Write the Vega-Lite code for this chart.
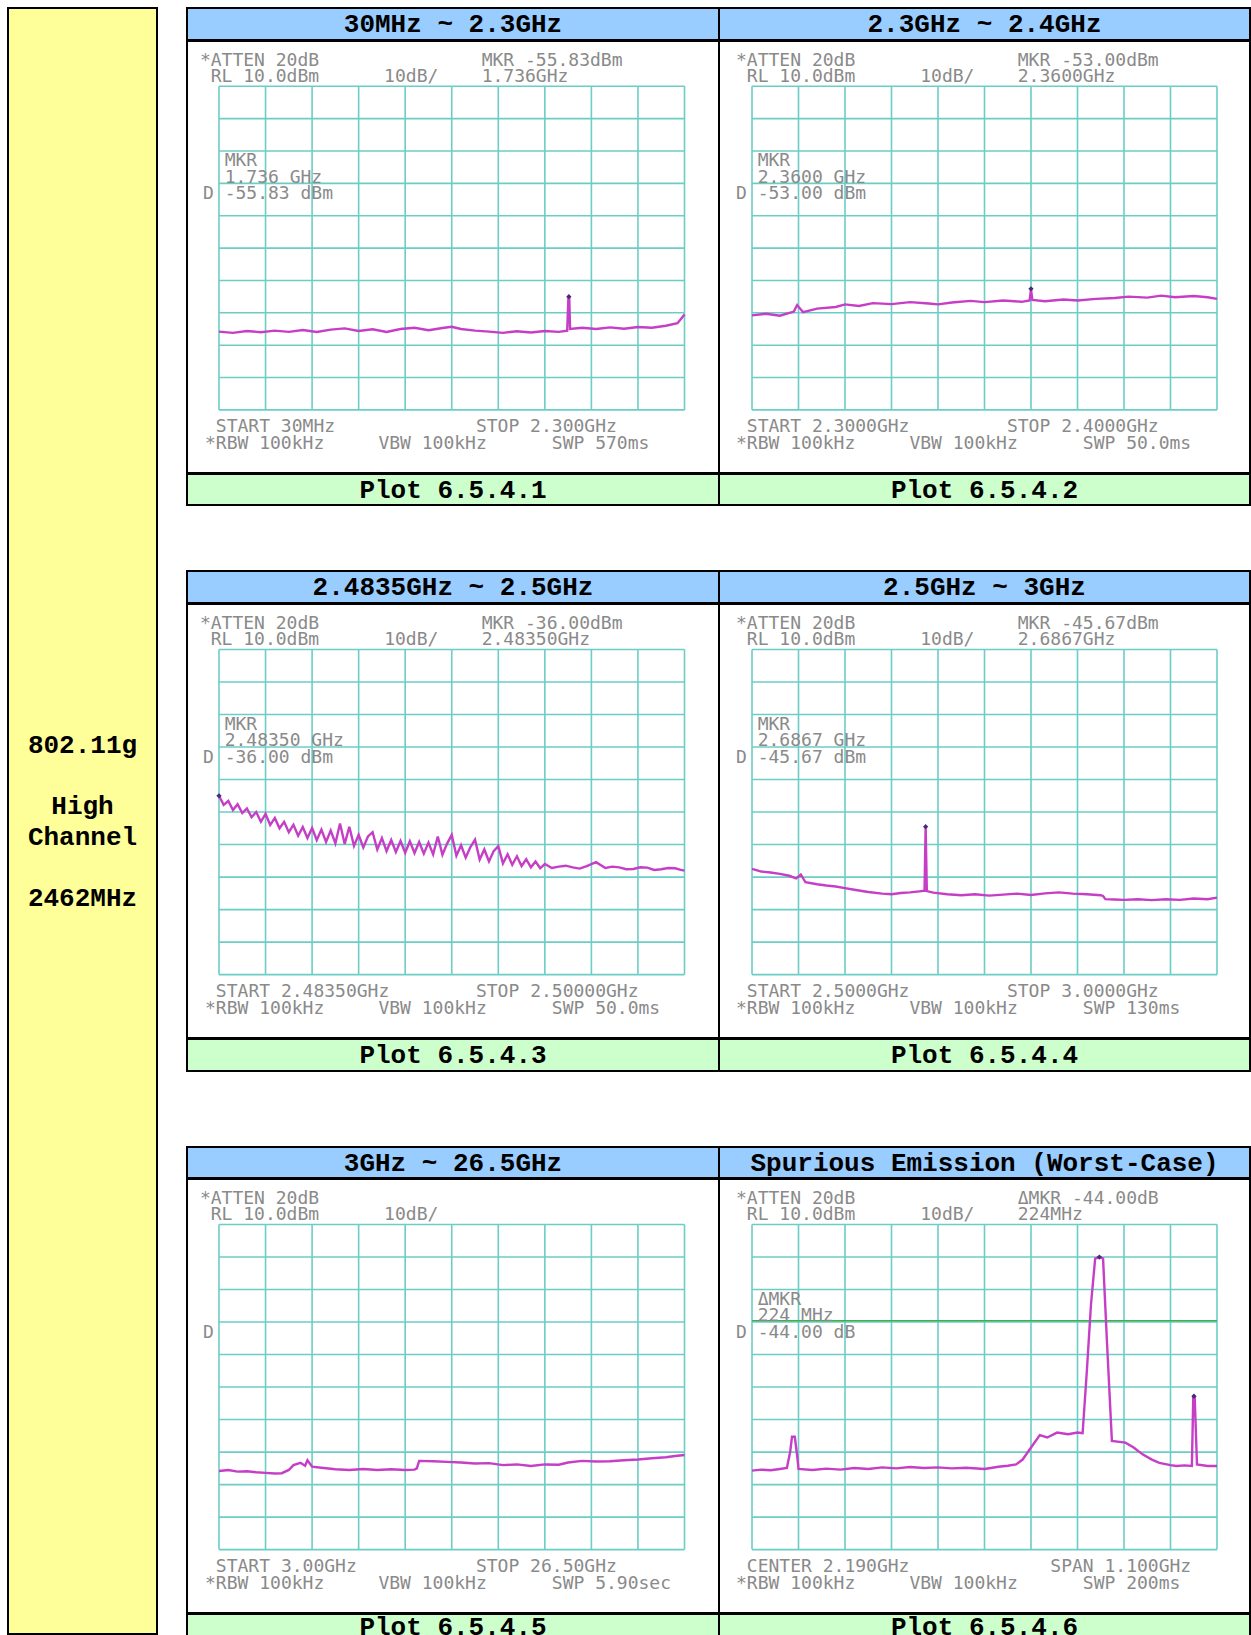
{
"$schema": "https://vega.github.io/schema/vega-lite/v6.json",
"background": "white",
"padding": {"left": 7, "top": 7, "right": 0, "bottom": 0},
"config": {
  "view": {"stroke": null},
  "text": {"font": "DejaVu Sans Mono", "fontSize": 18, "color": "#8a8a8a", "align": "left", "baseline": "alphabetic", "lineBreak": "\n"},
  "rule": {"color": "#6ccdc6", "strokeWidth": 1.6},
  "line": {"color": "#c63ec6", "strokeWidth": 2.4},
  "point": {"shape": "diamond", "filled": true, "color": "#4b2a7a", "size": 28, "opacity": 1}
},
"datasets": {
  "levels": [{"dbm":10},{"dbm":0},{"dbm":-10},{"dbm":-20},{"dbm":-30},{"dbm":-40},{"dbm":-50},{"dbm":-60},{"dbm":-70},{"dbm":-80},{"dbm":-90}],
  "g1": [{"ghz":0.03},{"ghz":0.257},{"ghz":0.484},{"ghz":0.711},{"ghz":0.938},{"ghz":1.165},{"ghz":1.392},{"ghz":1.619},{"ghz":1.846},{"ghz":2.073},{"ghz":2.3}],
  "g2": [{"ghz":2.30},{"ghz":2.31},{"ghz":2.32},{"ghz":2.33},{"ghz":2.34},{"ghz":2.35},{"ghz":2.36},{"ghz":2.37},{"ghz":2.38},{"ghz":2.39},{"ghz":2.40}],
  "g3": [{"ghz":2.4835},{"ghz":2.48515},{"ghz":2.4868},{"ghz":2.48845},{"ghz":2.4901},{"ghz":2.49175},{"ghz":2.4934},{"ghz":2.49505},{"ghz":2.4967},{"ghz":2.49835},{"ghz":2.5}],
  "g4": [{"ghz":2.50},{"ghz":2.55},{"ghz":2.60},{"ghz":2.65},{"ghz":2.70},{"ghz":2.75},{"ghz":2.80},{"ghz":2.85},{"ghz":2.90},{"ghz":2.95},{"ghz":3.00}],
  "g5": [{"ghz":3.0},{"ghz":5.35},{"ghz":7.7},{"ghz":10.05},{"ghz":12.4},{"ghz":14.75},{"ghz":17.1},{"ghz":19.45},{"ghz":21.8},{"ghz":24.15},{"ghz":26.5}],
  "g6": [{"ghz":1.64},{"ghz":1.75},{"ghz":1.86},{"ghz":1.97},{"ghz":2.08},{"ghz":2.19},{"ghz":2.30},{"ghz":2.41},{"ghz":2.52},{"ghz":2.63},{"ghz":2.74}],
  "p1": [{"ghz":0.030,"dbm":-65.8},{"ghz":0.098,"dbm":-66.2},{"ghz":0.166,"dbm":-65.6},{"ghz":0.234,"dbm":-66.0},{"ghz":0.302,"dbm":-65.5},{"ghz":0.371,"dbm":-65.9},{"ghz":0.439,"dbm":-65.3},{"ghz":0.507,"dbm":-65.9},{"ghz":0.575,"dbm":-65.2},{"ghz":0.643,"dbm":-64.8},{"ghz":0.711,"dbm":-65.6},{"ghz":0.779,"dbm":-65.1},{"ghz":0.847,"dbm":-65.9},{"ghz":0.915,"dbm":-65.0},{"ghz":0.983,"dbm":-64.6},{"ghz":1.052,"dbm":-65.4},{"ghz":1.120,"dbm":-64.7},{"ghz":1.165,"dbm":-64.3},{"ghz":1.210,"dbm":-65.0},{"ghz":1.279,"dbm":-65.5},{"ghz":1.347,"dbm":-65.8},{"ghz":1.415,"dbm":-66.2},{"ghz":1.483,"dbm":-65.7},{"ghz":1.551,"dbm":-66.1},{"ghz":1.619,"dbm":-65.6},{"ghz":1.687,"dbm":-65.9},{"ghz":1.728,"dbm":-65.5},{"ghz":1.734,"dbm":-55.2},{"ghz":1.738,"dbm":-55.2},{"ghz":1.742,"dbm":-65.0},{"ghz":1.801,"dbm":-64.6},{"ghz":1.869,"dbm":-65.0},{"ghz":1.937,"dbm":-64.5},{"ghz":2.005,"dbm":-64.9},{"ghz":2.073,"dbm":-64.4},{"ghz":2.141,"dbm":-64.6},{"ghz":2.209,"dbm":-64.0},{"ghz":2.266,"dbm":-63.2},{"ghz":2.300,"dbm":-60.5}],
  "p2": [{"ghz":2.300,"dbm":-60.8},{"ghz":2.303,"dbm":-60.3},{"ghz":2.306,"dbm":-60.9},{"ghz":2.309,"dbm":-59.6},{"ghz":2.3097,"dbm":-57.6},{"ghz":2.311,"dbm":-59.8},{"ghz":2.314,"dbm":-58.7},{"ghz":2.318,"dbm":-58.2},{"ghz":2.320,"dbm":-57.4},{"ghz":2.323,"dbm":-57.9},{"ghz":2.326,"dbm":-57.0},{"ghz":2.330,"dbm":-57.3},{"ghz":2.334,"dbm":-56.7},{"ghz":2.338,"dbm":-57.1},{"ghz":2.340,"dbm":-57.4},{"ghz":2.343,"dbm":-56.8},{"ghz":2.347,"dbm":-56.3},{"ghz":2.350,"dbm":-56.7},{"ghz":2.354,"dbm":-56.2},{"ghz":2.358,"dbm":-56.6},{"ghz":2.3597,"dbm":-56.2},{"ghz":2.3600,"dbm":-52.8},{"ghz":2.3603,"dbm":-56.0},{"ghz":2.363,"dbm":-56.4},{"ghz":2.367,"dbm":-55.9},{"ghz":2.370,"dbm":-56.2},{"ghz":2.374,"dbm":-55.7},{"ghz":2.378,"dbm":-55.4},{"ghz":2.381,"dbm":-55.0},{"ghz":2.385,"dbm":-55.3},{"ghz":2.388,"dbm":-54.7},{"ghz":2.391,"dbm":-55.2},{"ghz":2.395,"dbm":-54.8},{"ghz":2.398,"dbm":-55.2},{"ghz":2.400,"dbm":-55.7}],
  "p3": [{"ghz":2.4835,"dbm":-35.0},{"ghz":2.483665,"dbm":-37.8},{"ghz":2.48383,"dbm":-36.6},{"ghz":2.483995,"dbm":-39.4},{"ghz":2.48416,"dbm":-37.6},{"ghz":2.484325,"dbm":-40.3},{"ghz":2.48449,"dbm":-38.9},{"ghz":2.484655,"dbm":-41.6},{"ghz":2.48482,"dbm":-40.0},{"ghz":2.484985,"dbm":-43.0},{"ghz":2.48515,"dbm":-40.6},{"ghz":2.485315,"dbm":-44.0},{"ghz":2.48548,"dbm":-41.8},{"ghz":2.485645,"dbm":-45.0},{"ghz":2.48581,"dbm":-43.0},{"ghz":2.485975,"dbm":-46.2},{"ghz":2.48614,"dbm":-43.9},{"ghz":2.486305,"dbm":-47.3},{"ghz":2.48647,"dbm":-44.6},{"ghz":2.486635,"dbm":-48.0},{"ghz":2.4868,"dbm":-44.9},{"ghz":2.486965,"dbm":-48.6},{"ghz":2.48713,"dbm":-45.4},{"ghz":2.487295,"dbm":-49.2},{"ghz":2.48746,"dbm":-45.7},{"ghz":2.487625,"dbm":-49.6},{"ghz":2.48779,"dbm":-43.5},{"ghz":2.487955,"dbm":-49.8},{"ghz":2.48812,"dbm":-44.5},{"ghz":2.488285,"dbm":-50.4},{"ghz":2.48845,"dbm":-47.0},{"ghz":2.488615,"dbm":-50.9},{"ghz":2.48878,"dbm":-47.5},{"ghz":2.488945,"dbm":-46.2},{"ghz":2.48911,"dbm":-51.5},{"ghz":2.489275,"dbm":-48.0},{"ghz":2.48944,"dbm":-52.0},{"ghz":2.489605,"dbm":-48.6},{"ghz":2.48977,"dbm":-52.3},{"ghz":2.489935,"dbm":-48.9},{"ghz":2.4901,"dbm":-52.5},{"ghz":2.490265,"dbm":-49.0},{"ghz":2.49043,"dbm":-52.6},{"ghz":2.490595,"dbm":-49.2},{"ghz":2.49076,"dbm":-52.8},{"ghz":2.490925,"dbm":-49.4},{"ghz":2.49109,"dbm":-53.0},{"ghz":2.491255,"dbm":-47.5},{"ghz":2.49142,"dbm":-53.1},{"ghz":2.491585,"dbm":-49.7},{"ghz":2.49175,"dbm":-47.0},{"ghz":2.491915,"dbm":-53.4},{"ghz":2.49208,"dbm":-50.2},{"ghz":2.492245,"dbm":-54.0},{"ghz":2.49241,"dbm":-50.8},{"ghz":2.492575,"dbm":-48.5},{"ghz":2.49274,"dbm":-54.6},{"ghz":2.492905,"dbm":-51.5},{"ghz":2.49307,"dbm":-55.2},{"ghz":2.493235,"dbm":-52.0},{"ghz":2.4934,"dbm":-50.5},{"ghz":2.493565,"dbm":-55.8},{"ghz":2.49373,"dbm":-53.0},{"ghz":2.493895,"dbm":-56.2},{"ghz":2.49406,"dbm":-53.6},{"ghz":2.494225,"dbm":-56.6},{"ghz":2.49439,"dbm":-54.5},{"ghz":2.494555,"dbm":-57.0},{"ghz":2.49472,"dbm":-55.2},{"ghz":2.494885,"dbm":-57.3},{"ghz":2.49505,"dbm":-56.0},{"ghz":2.4952975,"dbm":-57.2},{"ghz":2.495545,"dbm":-56.8},{"ghz":2.4957925,"dbm":-56.5},{"ghz":2.49604,"dbm":-57.0},{"ghz":2.4962875,"dbm":-57.4},{"ghz":2.496535,"dbm":-56.6},{"ghz":2.496865,"dbm":-55.4},{"ghz":2.497195,"dbm":-57.2},{"ghz":2.4974425,"dbm":-56.8},{"ghz":2.49769,"dbm":-57.0},{"ghz":2.4979375,"dbm":-57.6},{"ghz":2.498185,"dbm":-57.5},{"ghz":2.4984325,"dbm":-57.0},{"ghz":2.49868,"dbm":-57.1},{"ghz":2.4989275,"dbm":-57.8},{"ghz":2.499175,"dbm":-57.6},{"ghz":2.4994225,"dbm":-57.2},{"ghz":2.49967,"dbm":-57.3},{"ghz":2.499835,"dbm":-57.7},{"ghz":2.5,"dbm":-58.0}],
  "p4": [{"ghz":2.500,"dbm":-57.5},{"ghz":2.510,"dbm":-58.3},{"ghz":2.520,"dbm":-58.6},{"ghz":2.530,"dbm":-59.0},{"ghz":2.540,"dbm":-59.6},{"ghz":2.5475,"dbm":-60.4},{"ghz":2.5525,"dbm":-59.2},{"ghz":2.5575,"dbm":-61.6},{"ghz":2.570,"dbm":-62.2},{"ghz":2.580,"dbm":-62.6},{"ghz":2.590,"dbm":-62.9},{"ghz":2.600,"dbm":-63.4},{"ghz":2.610,"dbm":-63.9},{"ghz":2.625,"dbm":-64.6},{"ghz":2.640,"dbm":-65.1},{"ghz":2.650,"dbm":-65.3},{"ghz":2.660,"dbm":-64.9},{"ghz":2.670,"dbm":-64.7},{"ghz":2.680,"dbm":-64.4},{"ghz":2.6855,"dbm":-64.2},{"ghz":2.6867,"dbm":-44.5},{"ghz":2.688,"dbm":-64.3},{"ghz":2.695,"dbm":-64.8},{"ghz":2.710,"dbm":-65.3},{"ghz":2.725,"dbm":-65.6},{"ghz":2.740,"dbm":-65.3},{"ghz":2.755,"dbm":-65.7},{"ghz":2.770,"dbm":-65.4},{"ghz":2.785,"dbm":-65.1},{"ghz":2.800,"dbm":-65.5},{"ghz":2.815,"dbm":-65.0},{"ghz":2.830,"dbm":-64.7},{"ghz":2.845,"dbm":-65.1},{"ghz":2.860,"dbm":-65.3},{"ghz":2.875,"dbm":-65.6},{"ghz":2.8775,"dbm":-65.8},{"ghz":2.880,"dbm":-66.8},{"ghz":2.890,"dbm":-66.9},{"ghz":2.900,"dbm":-67.0},{"ghz":2.915,"dbm":-66.8},{"ghz":2.930,"dbm":-67.1},{"ghz":2.945,"dbm":-66.8},{"ghz":2.960,"dbm":-67.0},{"ghz":2.975,"dbm":-66.6},{"ghz":2.990,"dbm":-66.8},{"ghz":3.000,"dbm":-66.3}],
  "p5": [{"ghz":3.000,"dbm":-65.8},{"ghz":3.470,"dbm":-65.5},{"ghz":3.940,"dbm":-66.0},{"ghz":4.410,"dbm":-65.9},{"ghz":4.880,"dbm":-66.2},{"ghz":5.350,"dbm":-66.4},{"ghz":5.820,"dbm":-66.6},{"ghz":6.1725,"dbm":-66.5},{"ghz":6.525,"dbm":-65.5},{"ghz":6.760,"dbm":-64.0},{"ghz":7.1125,"dbm":-63.3},{"ghz":7.3475,"dbm":-64.2},{"ghz":7.465,"dbm":-62.5},{"ghz":7.700,"dbm":-64.5},{"ghz":8.170,"dbm":-64.8},{"ghz":8.875,"dbm":-65.3},{"ghz":9.580,"dbm":-65.5},{"ghz":10.285,"dbm":-65.2},{"ghz":10.990,"dbm":-65.5},{"ghz":11.695,"dbm":-65.3},{"ghz":12.400,"dbm":-65.5},{"ghz":12.870,"dbm":-65.4},{"ghz":12.9875,"dbm":-65.0},{"ghz":13.105,"dbm":-62.7},{"ghz":13.810,"dbm":-62.8},{"ghz":14.515,"dbm":-63.0},{"ghz":15.220,"dbm":-63.2},{"ghz":15.925,"dbm":-63.5},{"ghz":16.630,"dbm":-63.4},{"ghz":17.335,"dbm":-64.0},{"ghz":18.040,"dbm":-63.8},{"ghz":18.745,"dbm":-64.3},{"ghz":19.450,"dbm":-63.8},{"ghz":20.155,"dbm":-63.9},{"ghz":20.625,"dbm":-63.2},{"ghz":21.330,"dbm":-62.7},{"ghz":22.035,"dbm":-62.9},{"ghz":22.740,"dbm":-62.8},{"ghz":23.445,"dbm":-62.5},{"ghz":24.150,"dbm":-62.3},{"ghz":24.855,"dbm":-61.9},{"ghz":25.560,"dbm":-61.6},{"ghz":26.030,"dbm":-61.2},{"ghz":26.500,"dbm":-60.9}],
  "p6": [{"ghz":1.640,"dbm":-65.7},{"ghz":1.662,"dbm":-65.4},{"ghz":1.684,"dbm":-65.6},{"ghz":1.706,"dbm":-65.2},{"ghz":1.7225,"dbm":-64.9},{"ghz":1.7302,"dbm":-60.0},{"ghz":1.7346,"dbm":-55.3},{"ghz":1.7412,"dbm":-55.3},{"ghz":1.7467,"dbm":-61.0},{"ghz":1.750,"dbm":-65.2},{"ghz":1.783,"dbm":-65.5},{"ghz":1.816,"dbm":-65.1},{"ghz":1.849,"dbm":-65.4},{"ghz":1.882,"dbm":-64.9},{"ghz":1.915,"dbm":-65.2},{"ghz":1.948,"dbm":-64.7},{"ghz":1.981,"dbm":-65.0},{"ghz":2.014,"dbm":-64.6},{"ghz":2.047,"dbm":-64.9},{"ghz":2.080,"dbm":-64.7},{"ghz":2.113,"dbm":-65.0},{"ghz":2.146,"dbm":-64.8},{"ghz":2.190,"dbm":-65.2},{"ghz":2.223,"dbm":-64.5},{"ghz":2.245,"dbm":-64.2},{"ghz":2.2648,"dbm":-63.8},{"ghz":2.2802,"dbm":-62.3},{"ghz":2.2967,"dbm":-59.2},{"ghz":2.3209,"dbm":-54.8},{"ghz":2.3385,"dbm":-55.5},{"ghz":2.3616,"dbm":-54.0},{"ghz":2.388,"dbm":-54.5},{"ghz":2.410,"dbm":-54.0},{"ghz":2.4221,"dbm":-54.2},{"ghz":2.432,"dbm":-35.3},{"ghz":2.4419,"dbm":-14.6},{"ghz":2.4518,"dbm":-0.5},{"ghz":2.4617,"dbm":0.0},{"ghz":2.4705,"dbm":-0.5},{"ghz":2.4793,"dbm":-25.0},{"ghz":2.4914,"dbm":-56.6},{"ghz":2.5233,"dbm":-57.1},{"ghz":2.542,"dbm":-58.5},{"ghz":2.564,"dbm":-60.7},{"ghz":2.586,"dbm":-62.3},{"ghz":2.6036,"dbm":-63.3},{"ghz":2.630,"dbm":-64.0},{"ghz":2.6443,"dbm":-64.3},{"ghz":2.663,"dbm":-64.1},{"ghz":2.6806,"dbm":-64.3},{"ghz":2.6839,"dbm":-43.0},{"ghz":2.6872,"dbm":-43.0},{"ghz":2.6927,"dbm":-63.8},{"ghz":2.718,"dbm":-64.3},{"ghz":2.740,"dbm":-64.3}]
},
"spacing": 28,
"hconcat": [
  {
    "width": 149, "height": 1626,
    "view": {"fill": "#ffff99", "stroke": "black", "strokeWidth": 2},
    "data": {"values": [{"t": "802.11g\n\u200b\nHigh\nChannel\n\u200b\n2462MHz"}]},
    "mark": {"type": "text", "font": "Liberation Mono", "fontWeight": "bold", "fontSize": 26, "color": "black", "align": "center", "baseline": "middle", "lineHeight": 30.5, "dy": -76},
    "encoding": {"text": {"field": "t"}}
  },
  {
    "spacing": 64,
    "vconcat": [
      {
        "spacing": -2,
        "vconcat": [
          {"spacing": 0, "bounds": "flush", "hconcat": [
            {"width": 532, "height": 32, "view": {"fill": "#99ccff", "stroke": "black", "strokeWidth": 2}, "data": {"values": [{"t": "30MHz ~ 2.3GHz"}]}, "mark": {"type": "text", "font": "Liberation Mono", "fontWeight": "bold", "fontSize": 26, "color": "black", "align": "center", "baseline": "middle"}, "encoding": {"text": {"field": "t"}}},
            {"width": 531, "height": 32, "view": {"fill": "#99ccff", "stroke": "black", "strokeWidth": 2}, "data": {"values": [{"t": "2.3GHz ~ 2.4GHz"}]}, "mark": {"type": "text", "font": "Liberation Mono", "fontWeight": "bold", "fontSize": 26, "color": "black", "align": "center", "baseline": "middle"}, "encoding": {"text": {"field": "t"}}}
          ]},
          {"spacing": 0, "bounds": "flush", "hconcat": [
            {
              "width": 532, "height": 432,
              "view": {"fill": "white", "stroke": "black", "strokeWidth": 2},
              "layer": [
                {"data": {"name": "g1"}, "mark": {"type": "rule"}, "encoding": {"x": {"field": "ghz", "type": "quantitative", "scale": {"domain": [-0.12595, 2.4682], "nice": false, "zero": false}, "axis": null}, "y": {"datum": -90, "type": "quantitative", "scale": {"domain": [-109.5, 24], "nice": false, "zero": false}, "axis": null}, "y2": {"datum": 10}}},
                {"data": {"name": "levels"}, "mark": {"type": "rule"}, "encoding": {"y": {"field": "dbm", "type": "quantitative"}, "x": {"datum": 0.03, "type": "quantitative"}, "x2": {"datum": 2.3}}},
                {"data": {"values": [{"label": "*ATTEN 20dB\u00a0\u00a0\u00a0\u00a0\u00a0\u00a0\u00a0\u00a0\u00a0\u00a0\u00a0\u00a0\u00a0\u00a0\u00a0MKR -55.83dBm\n\u200b\u00a0RL 10.0dBm\u00a0\u00a0\u00a0\u00a0\u00a0\u00a010dB/\u00a0\u00a0\u00a0\u00a01.736GHz"}]}, "mark": {"type": "text", "lineHeight": 16}, "encoding": {"x": {"datum": -0.0631, "type": "quantitative"}, "y": {"datum": 16.2, "type": "quantitative"}, "text": {"field": "label"}}},
                {"data": {"values": [{"label": "\u200b\u00a0\u00a0MKR\n\u200b\u00a0\u00a01.736 GHz\nD\u00a0-55.83 dBm"}]}, "mark": {"type": "text", "lineHeight": 16.5}, "encoding": {"x": {"datum": -0.0481, "type": "quantitative"}, "y": {"datum": -14.7, "type": "quantitative"}, "text": {"field": "label"}}},
                {"data": {"values": [{"label": "\u200b\u00a0START 30MHz\u00a0\u00a0\u00a0\u00a0\u00a0\u00a0\u00a0\u00a0\u00a0\u00a0\u00a0\u00a0\u00a0STOP 2.300GHz\n*RBW 100kHz\u00a0\u00a0\u00a0\u00a0\u00a0VBW 100kHz\u00a0\u00a0\u00a0\u00a0\u00a0\u00a0SWP 570ms"}]}, "mark": {"type": "text", "lineHeight": 17}, "encoding": {"x": {"datum": -0.0381, "type": "quantitative"}, "y": {"datum": -96.8, "type": "quantitative"}, "text": {"field": "label"}}},
                {"data": {"name": "p1"}, "mark": {"type": "line"}, "encoding": {"x": {"field": "ghz", "type": "quantitative"}, "y": {"field": "dbm", "type": "quantitative"}}},
                {"data": {"values": [{"ghz": 1.736, "dbm": -55.0}]}, "mark": {"type": "point"}, "encoding": {"x": {"field": "ghz", "type": "quantitative"}, "y": {"field": "dbm", "type": "quantitative"}}}
              ]
            },
            {
              "width": 531, "height": 432,
              "view": {"fill": "white", "stroke": "black", "strokeWidth": 2},
              "layer": [
                {"data": {"name": "g2"}, "mark": {"type": "rule"}, "encoding": {"x": {"field": "ghz", "type": "quantitative", "scale": {"domain": [2.2929, 2.4071], "nice": false, "zero": false}, "axis": null}, "y": {"datum": -90, "type": "quantitative", "scale": {"domain": [-109.5, 24], "nice": false, "zero": false}, "axis": null}, "y2": {"datum": 10}}},
                {"data": {"name": "levels"}, "mark": {"type": "rule"}, "encoding": {"y": {"field": "dbm", "type": "quantitative"}, "x": {"datum": 2.3, "type": "quantitative"}, "x2": {"datum": 2.4}}},
                {"data": {"values": [{"label": "*ATTEN 20dB\u00a0\u00a0\u00a0\u00a0\u00a0\u00a0\u00a0\u00a0\u00a0\u00a0\u00a0\u00a0\u00a0\u00a0\u00a0MKR -53.00dBm\n\u200b\u00a0RL 10.0dBm\u00a0\u00a0\u00a0\u00a0\u00a0\u00a010dB/\u00a0\u00a0\u00a0\u00a02.3600GHz"}]}, "mark": {"type": "text", "lineHeight": 16}, "encoding": {"x": {"datum": 2.29656, "type": "quantitative"}, "y": {"datum": 16.2, "type": "quantitative"}, "text": {"field": "label"}}},
                {"data": {"values": [{"label": "\u200b\u00a0\u00a0MKR\n\u200b\u00a0\u00a02.3600 GHz\nD\u00a0-53.00 dBm"}]}, "mark": {"type": "text", "lineHeight": 16.5}, "encoding": {"x": {"datum": 2.29656, "type": "quantitative"}, "y": {"datum": -14.7, "type": "quantitative"}, "text": {"field": "label"}}},
                {"data": {"values": [{"label": "\u200b\u00a0START 2.3000GHz\u00a0\u00a0\u00a0\u00a0\u00a0\u00a0\u00a0\u00a0\u00a0STOP 2.4000GHz\n*RBW 100kHz\u00a0\u00a0\u00a0\u00a0\u00a0VBW 100kHz\u00a0\u00a0\u00a0\u00a0\u00a0\u00a0SWP 50.0ms"}]}, "mark": {"type": "text", "lineHeight": 17}, "encoding": {"x": {"datum": 2.29656, "type": "quantitative"}, "y": {"datum": -96.8, "type": "quantitative"}, "text": {"field": "label"}}},
                {"data": {"name": "p2"}, "mark": {"type": "line"}, "encoding": {"x": {"field": "ghz", "type": "quantitative"}, "y": {"field": "dbm", "type": "quantitative"}}},
                {"data": {"values": [{"ghz": 2.36, "dbm": -52.6}]}, "mark": {"type": "point"}, "encoding": {"x": {"field": "ghz", "type": "quantitative"}, "y": {"field": "dbm", "type": "quantitative"}}}
              ]
            }
          ]},
          {"spacing": 0, "bounds": "flush", "hconcat": [
            {"width": 532, "height": 31, "view": {"fill": "#ccffcc", "stroke": "black", "strokeWidth": 2}, "data": {"values": [{"t": "Plot 6.5.4.1"}]}, "mark": {"type": "text", "font": "Liberation Mono", "fontWeight": "bold", "fontSize": 26, "color": "black", "align": "center", "baseline": "middle"}, "encoding": {"text": {"field": "t"}}},
            {"width": 531, "height": 31, "view": {"fill": "#ccffcc", "stroke": "black", "strokeWidth": 2}, "data": {"values": [{"t": "Plot 6.5.4.2"}]}, "mark": {"type": "text", "font": "Liberation Mono", "fontWeight": "bold", "fontSize": 26, "color": "black", "align": "center", "baseline": "middle"}, "encoding": {"text": {"field": "t"}}}
          ]}
        ]
      },
      {
        "spacing": 74,
        "vconcat": [
          {
            "spacing": -2,
            "vconcat": [
              {"spacing": 0, "bounds": "flush", "hconcat": [
                {"width": 532, "height": 32, "view": {"fill": "#99ccff", "stroke": "black", "strokeWidth": 2}, "data": {"values": [{"t": "2.4835GHz ~ 2.5GHz"}]}, "mark": {"type": "text", "font": "Liberation Mono", "fontWeight": "bold", "fontSize": 26, "color": "black", "align": "center", "baseline": "middle"}, "encoding": {"text": {"field": "t"}}},
                {"width": 531, "height": 32, "view": {"fill": "#99ccff", "stroke": "black", "strokeWidth": 2}, "data": {"values": [{"t": "2.5GHz ~ 3GHz"}]}, "mark": {"type": "text", "font": "Liberation Mono", "fontWeight": "bold", "fontSize": 26, "color": "black", "align": "center", "baseline": "middle"}, "encoding": {"text": {"field": "t"}}}
              ]},
              {"spacing": 0, "bounds": "flush", "hconcat": [
                {
                  "width": 532, "height": 434,
                  "view": {"fill": "white", "stroke": "black", "strokeWidth": 2},
                  "layer": [
                    {"data": {"name": "g3"}, "mark": {"type": "rule"}, "encoding": {"x": {"field": "ghz", "type": "quantitative", "scale": {"domain": [2.482366, 2.501223], "nice": false, "zero": false}, "axis": null}, "y": {"datum": -90, "type": "quantitative", "scale": {"domain": [-109.5, 24], "nice": false, "zero": false}, "axis": null}, "y2": {"datum": 10}}},
                    {"data": {"name": "levels"}, "mark": {"type": "rule"}, "encoding": {"y": {"field": "dbm", "type": "quantitative"}, "x": {"datum": 2.4835, "type": "quantitative"}, "x2": {"datum": 2.5}}},
                    {"data": {"values": [{"label": "*ATTEN 20dB\u00a0\u00a0\u00a0\u00a0\u00a0\u00a0\u00a0\u00a0\u00a0\u00a0\u00a0\u00a0\u00a0\u00a0\u00a0MKR -36.00dBm\n\u200b\u00a0RL 10.0dBm\u00a0\u00a0\u00a0\u00a0\u00a0\u00a010dB/\u00a0\u00a0\u00a0\u00a02.48350GHz"}]}, "mark": {"type": "text", "lineHeight": 16}, "encoding": {"x": {"datum": 2.4828235, "type": "quantitative"}, "y": {"datum": 16.2, "type": "quantitative"}, "text": {"field": "label"}}},
                    {"data": {"values": [{"label": "\u200b\u00a0\u00a0MKR\n\u200b\u00a0\u00a02.48350 GHz\nD\u00a0-36.00 dBm"}]}, "mark": {"type": "text", "lineHeight": 16.5}, "encoding": {"x": {"datum": 2.4829324, "type": "quantitative"}, "y": {"datum": -14.7, "type": "quantitative"}, "text": {"field": "label"}}},
                    {"data": {"values": [{"label": "\u200b\u00a0START 2.48350GHz\u00a0\u00a0\u00a0\u00a0\u00a0\u00a0\u00a0\u00a0STOP 2.50000GHz\n*RBW 100kHz\u00a0\u00a0\u00a0\u00a0\u00a0VBW 100kHz\u00a0\u00a0\u00a0\u00a0\u00a0\u00a0SWP 50.0ms"}]}, "mark": {"type": "text", "lineHeight": 17}, "encoding": {"x": {"datum": 2.483005, "type": "quantitative"}, "y": {"datum": -96.8, "type": "quantitative"}, "text": {"field": "label"}}},
                    {"data": {"name": "p3"}, "mark": {"type": "line"}, "encoding": {"x": {"field": "ghz", "type": "quantitative"}, "y": {"field": "dbm", "type": "quantitative"}}},
                    {"data": {"values": [{"ghz": 2.4835, "dbm": -35.0}]}, "mark": {"type": "point"}, "encoding": {"x": {"field": "ghz", "type": "quantitative"}, "y": {"field": "dbm", "type": "quantitative"}}}
                  ]
                },
                {
                  "width": 531, "height": 434,
                  "view": {"fill": "white", "stroke": "black", "strokeWidth": 2},
                  "layer": [
                    {"data": {"name": "g4"}, "mark": {"type": "rule"}, "encoding": {"x": {"field": "ghz", "type": "quantitative", "scale": {"domain": [2.4645, 3.0355], "nice": false, "zero": false}, "axis": null}, "y": {"datum": -90, "type": "quantitative", "scale": {"domain": [-109.5, 24], "nice": false, "zero": false}, "axis": null}, "y2": {"datum": 10}}},
                    {"data": {"name": "levels"}, "mark": {"type": "rule"}, "encoding": {"y": {"field": "dbm", "type": "quantitative"}, "x": {"datum": 2.5, "type": "quantitative"}, "x2": {"datum": 3.0}}},
                    {"data": {"values": [{"label": "*ATTEN 20dB\u00a0\u00a0\u00a0\u00a0\u00a0\u00a0\u00a0\u00a0\u00a0\u00a0\u00a0\u00a0\u00a0\u00a0\u00a0MKR -45.67dBm\n\u200b\u00a0RL 10.0dBm\u00a0\u00a0\u00a0\u00a0\u00a0\u00a010dB/\u00a0\u00a0\u00a0\u00a02.6867GHz"}]}, "mark": {"type": "text", "lineHeight": 16}, "encoding": {"x": {"datum": 2.4828, "type": "quantitative"}, "y": {"datum": 16.2, "type": "quantitative"}, "text": {"field": "label"}}},
                    {"data": {"values": [{"label": "\u200b\u00a0\u00a0MKR\n\u200b\u00a0\u00a02.6867 GHz\nD\u00a0-45.67 dBm"}]}, "mark": {"type": "text", "lineHeight": 16.5}, "encoding": {"x": {"datum": 2.4828, "type": "quantitative"}, "y": {"datum": -14.7, "type": "quantitative"}, "text": {"field": "label"}}},
                    {"data": {"values": [{"label": "\u200b\u00a0START 2.5000GHz\u00a0\u00a0\u00a0\u00a0\u00a0\u00a0\u00a0\u00a0\u00a0STOP 3.0000GHz\n*RBW 100kHz\u00a0\u00a0\u00a0\u00a0\u00a0VBW 100kHz\u00a0\u00a0\u00a0\u00a0\u00a0\u00a0SWP 130ms"}]}, "mark": {"type": "text", "lineHeight": 17}, "encoding": {"x": {"datum": 2.4828, "type": "quantitative"}, "y": {"datum": -96.8, "type": "quantitative"}, "text": {"field": "label"}}},
                    {"data": {"name": "p4"}, "mark": {"type": "line"}, "encoding": {"x": {"field": "ghz", "type": "quantitative"}, "y": {"field": "dbm", "type": "quantitative"}}},
                    {"data": {"values": [{"ghz": 2.6867, "dbm": -44.5}]}, "mark": {"type": "point"}, "encoding": {"x": {"field": "ghz", "type": "quantitative"}, "y": {"field": "dbm", "type": "quantitative"}}}
                  ]
                }
              ]},
              {"spacing": 0, "bounds": "flush", "hconcat": [
                {"width": 532, "height": 32, "view": {"fill": "#ccffcc", "stroke": "black", "strokeWidth": 2}, "data": {"values": [{"t": "Plot 6.5.4.3"}]}, "mark": {"type": "text", "font": "Liberation Mono", "fontWeight": "bold", "fontSize": 26, "color": "black", "align": "center", "baseline": "middle"}, "encoding": {"text": {"field": "t"}}},
                {"width": 531, "height": 32, "view": {"fill": "#ccffcc", "stroke": "black", "strokeWidth": 2}, "data": {"values": [{"t": "Plot 6.5.4.4"}]}, "mark": {"type": "text", "font": "Liberation Mono", "fontWeight": "bold", "fontSize": 26, "color": "black", "align": "center", "baseline": "middle"}, "encoding": {"text": {"field": "t"}}}
              ]}
            ]
          },
          {
            "spacing": -2,
            "vconcat": [
              {"spacing": 0, "bounds": "flush", "hconcat": [
                {"width": 532, "height": 31, "view": {"fill": "#99ccff", "stroke": "black", "strokeWidth": 2}, "data": {"values": [{"t": "3GHz ~ 26.5GHz"}]}, "mark": {"type": "text", "font": "Liberation Mono", "fontWeight": "bold", "fontSize": 26, "color": "black", "align": "center", "baseline": "middle"}, "encoding": {"text": {"field": "t"}}},
                {"width": 531, "height": 31, "view": {"fill": "#99ccff", "stroke": "black", "strokeWidth": 2}, "data": {"values": [{"t": "Spurious Emission (Worst-Case)"}]}, "mark": {"type": "text", "font": "Liberation Mono", "fontWeight": "bold", "fontSize": 26, "color": "black", "align": "center", "baseline": "middle"}, "encoding": {"text": {"field": "t"}}}
              ]},
              {"spacing": 0, "bounds": "flush", "hconcat": [
                {
                  "width": 532, "height": 434,
                  "view": {"fill": "white", "stroke": "black", "strokeWidth": 2},
                  "layer": [
                    {"data": {"name": "g5"}, "mark": {"type": "rule"}, "encoding": {"x": {"field": "ghz", "type": "quantitative", "scale": {"domain": [1.3855, 28.2414], "nice": false, "zero": false}, "axis": null}, "y": {"datum": -90, "type": "quantitative", "scale": {"domain": [-109.5, 24], "nice": false, "zero": false}, "axis": null}, "y2": {"datum": 10}}},
                    {"data": {"name": "levels"}, "mark": {"type": "rule"}, "encoding": {"y": {"field": "dbm", "type": "quantitative"}, "x": {"datum": 3.0, "type": "quantitative"}, "x2": {"datum": 26.5}}},
                    {"data": {"values": [{"label": "*ATTEN 20dB\n\u200b\u00a0RL 10.0dBm\u00a0\u00a0\u00a0\u00a0\u00a0\u00a010dB/"}]}, "mark": {"type": "text", "lineHeight": 16}, "encoding": {"x": {"datum": 2.0365, "type": "quantitative"}, "y": {"datum": 16.2, "type": "quantitative"}, "text": {"field": "label"}}},
                    {"data": {"values": [{"label": "D"}]}, "mark": {"type": "text"}, "encoding": {"x": {"datum": 2.1916, "type": "quantitative"}, "y": {"datum": -24.9, "type": "quantitative"}, "text": {"field": "label"}}},
                    {"data": {"values": [{"label": "\u200b\u00a0START 3.00GHz\u00a0\u00a0\u00a0\u00a0\u00a0\u00a0\u00a0\u00a0\u00a0\u00a0\u00a0STOP 26.50GHz\n*RBW 100kHz\u00a0\u00a0\u00a0\u00a0\u00a0VBW 100kHz\u00a0\u00a0\u00a0\u00a0\u00a0\u00a0SWP 5.90sec"}]}, "mark": {"type": "text", "lineHeight": 17}, "encoding": {"x": {"datum": 2.295, "type": "quantitative"}, "y": {"datum": -96.8, "type": "quantitative"}, "text": {"field": "label"}}},
                    {"data": {"name": "p5"}, "mark": {"type": "line"}, "encoding": {"x": {"field": "ghz", "type": "quantitative"}, "y": {"field": "dbm", "type": "quantitative"}}}
                  ]
                },
                {
                  "width": 531, "height": 434,
                  "view": {"fill": "white", "stroke": "black", "strokeWidth": 2},
                  "layer": [
                    {"data": {"name": "g6"}, "mark": {"type": "rule"}, "encoding": {"x": {"field": "ghz", "type": "quantitative", "scale": {"domain": [1.5619, 2.8181], "nice": false, "zero": false}, "axis": null}, "y": {"datum": -90, "type": "quantitative", "scale": {"domain": [-109.5, 24], "nice": false, "zero": false}, "axis": null}, "y2": {"datum": 10}}},
                    {"data": {"name": "levels"}, "mark": {"type": "rule"}, "encoding": {"y": {"field": "dbm", "type": "quantitative"}, "x": {"datum": 1.64, "type": "quantitative"}, "x2": {"datum": 2.74}}},
                    {"data": {"values": [{"lvl": -19.6}]}, "mark": {"type": "rule", "color": "#3fae4f"}, "encoding": {"y": {"field": "lvl", "type": "quantitative"}, "x": {"datum": 1.64, "type": "quantitative"}, "x2": {"datum": 2.74}}},
                    {"data": {"values": [{"label": "*ATTEN 20dB\u00a0\u00a0\u00a0\u00a0\u00a0\u00a0\u00a0\u00a0\u00a0\u00a0\u00a0\u00a0\u00a0\u00a0\u00a0\u0394MKR -44.00dB\n\u200b\u00a0RL 10.0dBm\u00a0\u00a0\u00a0\u00a0\u00a0\u00a010dB/\u00a0\u00a0\u00a0\u00a0224MHz"}]}, "mark": {"type": "text", "lineHeight": 16}, "encoding": {"x": {"datum": 1.60216, "type": "quantitative"}, "y": {"datum": 16.2, "type": "quantitative"}, "text": {"field": "label"}}},
                    {"data": {"values": [{"label": "\u200b\u00a0\u00a0\u0394MKR\n\u200b\u00a0\u00a0224 MHz\nD\u00a0-44.00 dB"}]}, "mark": {"type": "text", "lineHeight": 16.5}, "encoding": {"x": {"datum": 1.60216, "type": "quantitative"}, "y": {"datum": -14.7, "type": "quantitative"}, "text": {"field": "label"}}},
                    {"data": {"values": [{"label": "\u200b\u00a0CENTER 2.190GHz\u00a0\u00a0\u00a0\u00a0\u00a0\u00a0\u00a0\u00a0\u00a0\u00a0\u00a0\u00a0\u00a0SPAN 1.100GHz\n*RBW 100kHz\u00a0\u00a0\u00a0\u00a0\u00a0VBW 100kHz\u00a0\u00a0\u00a0\u00a0\u00a0\u00a0SWP 200ms"}]}, "mark": {"type": "text", "lineHeight": 17}, "encoding": {"x": {"datum": 1.60216, "type": "quantitative"}, "y": {"datum": -96.8, "type": "quantitative"}, "text": {"field": "label"}}},
                    {"data": {"name": "p6"}, "mark": {"type": "line"}, "encoding": {"x": {"field": "ghz", "type": "quantitative"}, "y": {"field": "dbm", "type": "quantitative"}}},
                    {"data": {"values": [{"ghz": 2.4617, "dbm": 0.0}, {"ghz": 2.6855, "dbm": -42.8}]}, "mark": {"type": "point"}, "encoding": {"x": {"field": "ghz", "type": "quantitative"}, "y": {"field": "dbm", "type": "quantitative"}}}
                  ]
                }
              ]},
              {"spacing": 0, "bounds": "flush", "hconcat": [
                {"width": 532, "height": 26, "view": {"fill": "#ccffcc", "stroke": "black", "strokeWidth": 2}, "data": {"values": [{"t": "Plot 6.5.4.5"}]}, "mark": {"type": "text", "font": "Liberation Mono", "fontWeight": "bold", "fontSize": 26, "color": "black", "align": "center", "baseline": "middle"}, "encoding": {"text": {"field": "t"}}},
                {"width": 531, "height": 26, "view": {"fill": "#ccffcc", "stroke": "black", "strokeWidth": 2}, "data": {"values": [{"t": "Plot 6.5.4.6"}]}, "mark": {"type": "text", "font": "Liberation Mono", "fontWeight": "bold", "fontSize": 26, "color": "black", "align": "center", "baseline": "middle"}, "encoding": {"text": {"field": "t"}}}
              ]}
            ]
          }
        ]
      }
    ]
  }
]
}
